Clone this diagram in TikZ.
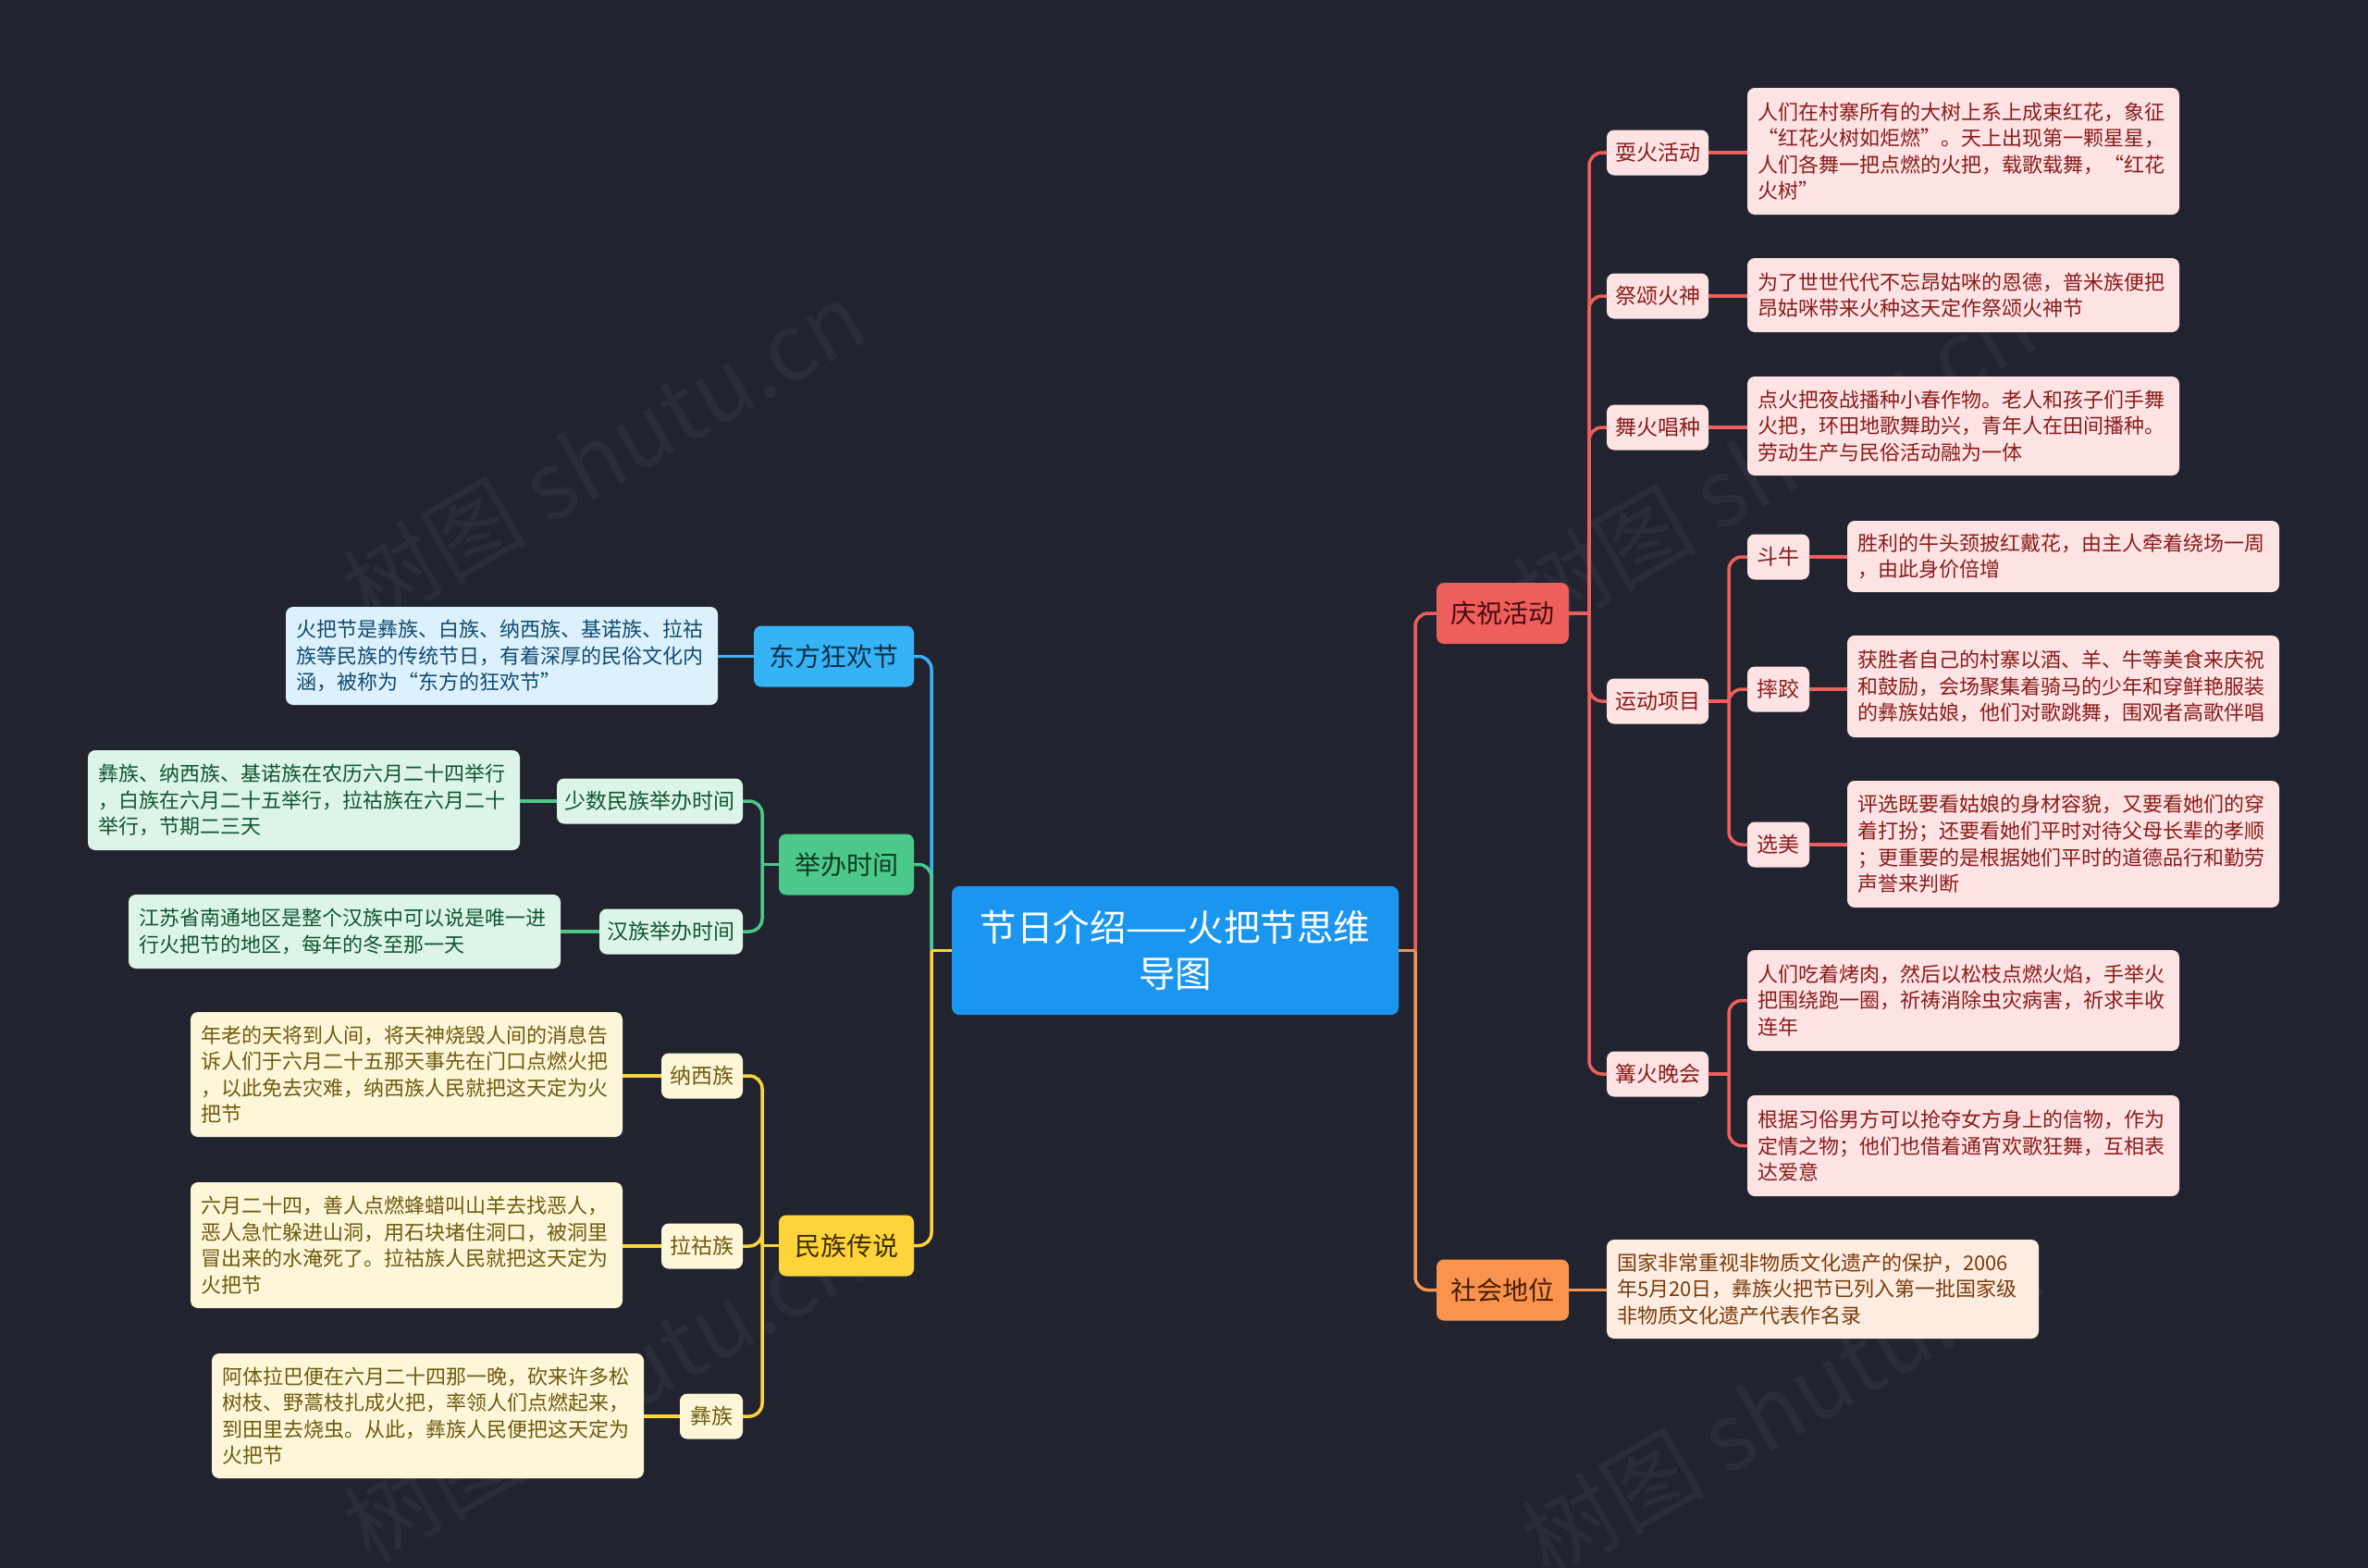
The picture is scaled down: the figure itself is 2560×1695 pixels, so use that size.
\documentclass[tikz,border=0pt]{standalone}
\usepackage{fontspec}
\setmainfont{Noto Sans CJK SC}
\newcommand\fleaf{\fontsize{22pt}{28.6pt}\selectfont}
\newcommand\fsub{\fontsize{23pt}{30pt}\selectfont}
\newcommand\fmain{\fontsize{28pt}{34pt}\selectfont}
\newcommand\froot{\fontsize{39.5pt}{50pt}\selectfont}
\newcommand\fwm{\fontsize{100pt}{100pt}\selectfont}
\definecolor{bg}{RGB}{33,36,47}
\definecolor{cRoot}{RGB}{27,150,240}
\definecolor{cRed}{RGB}{238,94,92}
\definecolor{cRedD}{RGB}{70,12,12}
\definecolor{cRedL}{RGB}{253,227,227}
\definecolor{cRedT}{RGB}{138,28,28}
\definecolor{cOr}{RGB}{249,147,78}
\definecolor{cOrD}{RGB}{70,30,5}
\definecolor{cOrL}{RGB}{253,237,224}
\definecolor{cOrT}{RGB}{123,59,14}
\definecolor{cBl}{RGB}{54,179,245}
\definecolor{cBlD}{RGB}{10,47,74}
\definecolor{cBlL}{RGB}{220,241,252}
\definecolor{cBlT}{RGB}{17,74,112}
\definecolor{cGr}{RGB}{76,201,138}
\definecolor{cGrD}{RGB}{14,58,34}
\definecolor{cGrL}{RGB}{221,245,232}
\definecolor{cGrT}{RGB}{17,85,51}
\definecolor{cYe}{RGB}{255,212,59}
\definecolor{cYeD}{RGB}{60,46,0}
\definecolor{cYeL}{RGB}{253,246,216}
\definecolor{cYeT}{RGB}{110,91,15}
\tikzset{
  box/.style={rounded corners=8pt, inner sep=0pt, align=center},
  leaf/.style={box, text width=445pt, align=left, inner xsep=11pt, inner ysep=0pt, font=\fleaf},
  lone/.style={box, font=\fmain, minimum height=66pt},
  ltwo/.style={box, font=\fsub, minimum height=49pt},
  rootbox/.style={box, fill=cRoot, text=white, font=\froot, minimum width=483pt, minimum height=139pt},
  redA/.style={lone, fill=cRed, text=cRedD},
  redB/.style={ltwo, fill=cRedL, text=cRedT},
  redC/.style={leaf, fill=cRedL, text=cRedT},
  orA/.style={lone, fill=cOr, text=cOrD},
  orC/.style={leaf, fill=cOrL, text=cOrT},
  blA/.style={lone, fill=cBl, text=cBlD},
  blC/.style={leaf, fill=cBlL, text=cBlT},
  grA/.style={lone, fill=cGr, text=cGrD},
  grB/.style={ltwo, fill=cGrL, text=cGrT},
  grC/.style={leaf, fill=cGrL, text=cGrT},
  yeA/.style={lone, fill=cYe, text=cYeD},
  yeB/.style={ltwo, fill=cYeL, text=cYeT},
  yeC/.style={leaf, fill=cYeL, text=cYeT},
  lred/.style={draw=cRed, line width=3.5pt, rounded corners=14pt},
  lor/.style={draw=cOr, line width=3.5pt, rounded corners=14pt},
  lbl/.style={draw=cBl, line width=3.5pt, rounded corners=14pt},
  lgr/.style={draw=cGr, line width=3.5pt, rounded corners=14pt},
  lye/.style={draw=cYe, line width=3.5pt, rounded corners=14pt},
  wm/.style={rotate=30, text=white, opacity=0.045, font=\fwm},
}
\begin{document}
\begin{tikzpicture}[x=1pt, y=-1pt]
\fill[bg] (0,0) rectangle (2560,1695);
\useasboundingbox (0,0) rectangle (2560,1695);

% watermarks
\node[wm] (wm1) at (653,490) {树图 shutu.cn};
\node[wm] (wm2) at (1918,498) {树图 shutu.cn};
\node[wm] (wm3) at (653,1502) {树图 shutu.cn};
\node[wm] (wm4) at (1927,1518) {树图 shutu.cn};

% root
\node[rootbox] (C) at (1270.5,1027.5) {节日介绍——火把节思维\\导图};

% right side
\node[redA, minimum width=143pt] (Q) at (1624.5,663) {庆祝活动};
\node[orA, minimum width=143pt] (S) at (1624.5,1394.5) {社会地位};

\node[redB, minimum width=110pt] (q1) at (1792,165) {耍火活动};
\node[redB, minimum width=110pt] (q2) at (1792,320) {祭颂火神};
\node[redB, minimum width=110pt] (q3) at (1792,462) {舞火唱种};
\node[redB, minimum width=110pt] (q4) at (1792,758) {运动项目};
\node[redB, minimum width=110pt] (q5) at (1792,1161) {篝火晚会};

\node[redB, minimum width=67pt] (y1) at (1922.5,602) {斗牛};
\node[redB, minimum width=67pt] (y2) at (1922.5,745) {摔跤};
\node[redB, minimum width=67pt] (y3) at (1922.5,913) {选美};

\node[redC, minimum height=137pt] (Lq1) at (2122.5,163.5) {人们在村寨所有的大树上系上成束红花，象征\\“红花火树如炬燃”。天上出现第一颗星星，\\人们各舞一把点燃的火把，载歌载舞，“红花\\火树”};
\node[redC, minimum height=80pt] (Lq2) at (2122.5,319) {为了世世代代不忘昂姑咪的恩德，普米族便把\\昂姑咪带来火种这天定作祭颂火神节};
\node[redC, minimum height=107pt] (Lq3) at (2122.5,460.5) {点火把夜战播种小春作物。老人和孩子们手舞\\火把，环田地歌舞助兴，青年人在田间播种。\\劳动生产与民俗活动融为一体};
\node[redC, minimum height=77pt] (Ly1) at (2230.5,601.5) {胜利的牛头颈披红戴花，由主人牵着绕场一周\\，由此身价倍增};
\node[redC, minimum height=110pt] (Ly2) at (2230.5,742) {获胜者自己的村寨以酒、羊、牛等美食来庆祝\\和鼓励，会场聚集着骑马的少年和穿鲜艳服装\\的彝族姑娘，他们对歌跳舞，围观者高歌伴唱};
\node[redC, minimum height=137pt] (Ly3) at (2230.5,912.5) {评选既要看姑娘的身材容貌，又要看她们的穿\\着打扮；还要看她们平时对待父母长辈的孝顺\\；更重要的是根据她们平时的道德品行和勤劳\\声誉来判断};
\node[redC, minimum height=109pt] (Lg1) at (2122.5,1081.5) {人们吃着烤肉，然后以松枝点燃火焰，手举火\\把围绕跑一圈，祈祷消除虫灾病害，祈求丰收\\连年};
\node[redC, minimum height=109pt] (Lg2) at (2122.5,1238.5) {根据习俗男方可以抢夺女方身上的信物，作为\\定情之物；他们也借着通宵欢歌狂舞，互相表\\达爱意};
\node[orC, minimum height=107pt] (Ls) at (1970.5,1393.5) {国家非常重视非物质文化遗产的保护，2006\\年5月20日，彝族火把节已列入第一批国家级\\非物质文化遗产代表作名录};

% left side
\node[blA, minimum width=173pt] (D) at (901.5,709.5) {东方狂欢节};
\node[grA, minimum width=146pt] (J) at (915,934.5) {举办时间};
\node[yeA, minimum width=146pt] (M) at (915,1346.5) {民族传说};

\node[grB, minimum width=201pt] (j1) at (702.5,866) {少数民族举办时间};
\node[grB, minimum width=155pt] (j2) at (725.5,1007) {汉族举办时间};
\node[yeB, minimum width=88pt] (m1) at (759,1163) {纳西族};
\node[yeB, minimum width=88pt] (m2) at (759,1347) {拉祜族};
\node[yeB, minimum width=68pt] (m3) at (769,1531) {彝族};

\node[blC, minimum height=106pt] (Ld) at (542.5,709) {火把节是彝族、白族、纳西族、基诺族、拉祜\\族等民族的传统节日，有着深厚的民俗文化内\\涵，被称为“东方的狂欢节”};
\node[grC, minimum height=108pt] (Lj1) at (328.5,865) {彝族、纳西族、基诺族在农历六月二十四举行\\，白族在六月二十五举行，拉祜族在六月二十\\举行，节期二三天};
\node[grC, minimum height=80pt] (Lj2) at (372.5,1007) {江苏省南通地区是整个汉族中可以说是唯一进\\行火把节的地区，每年的冬至那一天};
\node[yeC, minimum height=135pt] (Lm1) at (439.5,1161.5) {年老的天将到人间，将天神烧毁人间的消息告\\诉人们于六月二十五那天事先在门口点燃火把\\，以此免去灾难，纳西族人民就把这天定为火\\把节};
\node[yeC, minimum height=136pt] (Lm2) at (439.5,1346) {六月二十四，善人点燃蜂蜡叫山羊去找恶人，\\恶人急忙躲进山洞，用石块堵住洞口，被洞里\\冒出来的水淹死了。拉祜族人民就把这天定为\\火把节};
\node[yeC, minimum height=135pt] (Lm3) at (462.5,1530.5) {阿体拉巴便在六月二十四那一晚，砍来许多松\\树枝、野蒿枝扎成火把，率领人们点燃起来，\\到田里去烧虫。从此，彝族人民便把这天定为\\火把节};

% junction coordinates
\coordinate (jR) at (1530,1027.5);
\coordinate (jL) at (1007,1027.5);
\coordinate (jQ) at (1718,663);
\coordinate (jY) at (1869,758);
\coordinate (jG) at (1869,1161);
\coordinate (jJ) at (824,934.5);
\coordinate (jM) at (824,1346.5);

% root connectors
\draw[lred] (jR) |- (Q.west);
\draw[lor] (jR) |- (S.west);
\draw[lor] (C.east) -- (jR);
\draw[lbl] (jL) |- (D.east);
\draw[lgr] (jL) |- (J.east);
\draw[lye] (jL) |- (M.east);
\draw[lye] (C.west) -- (jL);

% 庆祝活动 children
\draw[lred] (Q.east) -- (jQ);
\draw[lred] (jQ) |- (q1.west);
\draw[lred] (jQ) |- (q2.west);
\draw[lred] (jQ) |- (q3.west);
\draw[lred] (jQ) |- (q4.west);
\draw[lred] (jQ) |- (q5.west);

\draw[lred] (q1.east) -- (q1.east -| Lq1.west);
\draw[lred] (q2.east) -- (q2.east -| Lq2.west);
\draw[lred] (q3.east) -- (q3.east -| Lq3.west);

\draw[lred] (q4.east) -- (jY);
\draw[lred] (jY) |- (y1.west);
\draw[lred] (jY) |- (y2.west);
\draw[lred] (jY) |- (y3.west);
\draw[lred] (y1.east) -- (y1.east -| Ly1.west);
\draw[lred] (y2.east) -- (y2.east -| Ly2.west);
\draw[lred] (y3.east) -- (y3.east -| Ly3.west);

\draw[lred] (q5.east) -- (jG);
\draw[lred] (jG) |- (Lg1.west);
\draw[lred] (jG) |- (Lg2.west);

\draw[lor] (S.east) -- (S.east -| Ls.west);

% left connectors
\draw[lbl] (D.west) -- (D.west -| Ld.east);
\draw[lgr] (J.west) -- (jJ);
\draw[lgr] (jJ) |- (j1.east);
\draw[lgr] (jJ) |- (j2.east);
\draw[lgr] (j1.west) -- (j1.west -| Lj1.east);
\draw[lgr] (j2.west) -- (j2.west -| Lj2.east);
\draw[lye] (M.west) -- (jM);
\draw[lye] (jM) |- (m1.east);
\draw[lye] (jM) |- (m2.east);
\draw[lye] (jM) |- (m3.east);
\draw[lye] (m1.west) -- (m1.west -| Lm1.east);
\draw[lye] (m2.west) -- (m2.west -| Lm2.east);
\draw[lye] (m3.west) -- (m3.west -| Lm3.east);
\end{tikzpicture}
\end{document}
